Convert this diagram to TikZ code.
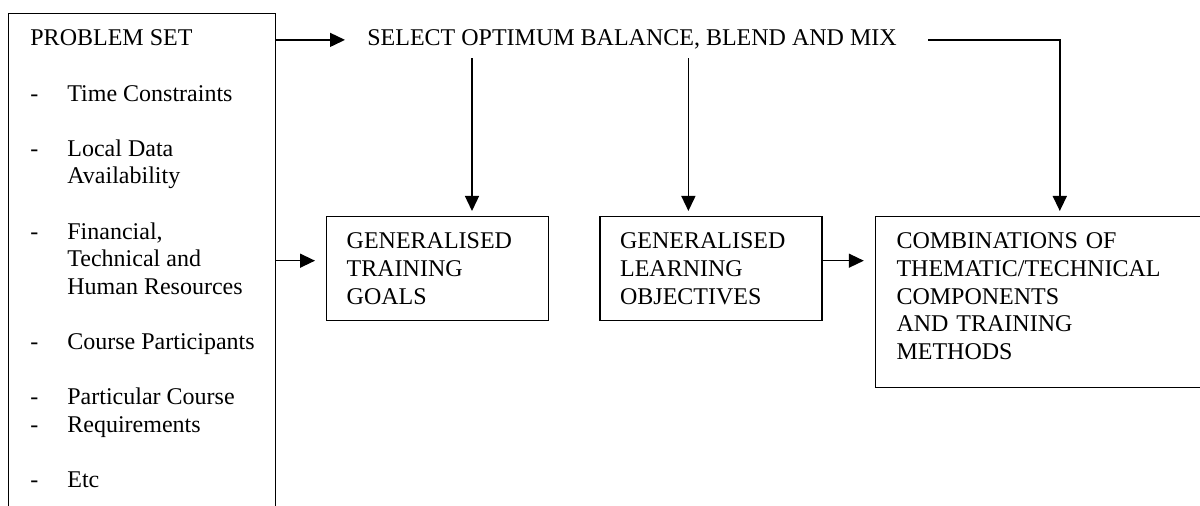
\documentclass[tikz,border=0pt]{standalone}
\usepackage{fontspec}
\setmainfont{Liberation Serif}
\usepackage{array}
\usetikzlibrary{arrows.meta, positioning}
\tikzstyle{block}  = [rectangle, draw=black, line width=0.7pt, align=left,
                       inner xsep=10pt, text width=91pt, minimum height=52pt]
\tikzstyle{probbox} = [rectangle, draw=black, line width=0.7pt, inner sep=0pt,
                       minimum width=133.5pt, minimum height=260pt]
\tikzstyle{arrow}  = [-{Triangle[length=7.5pt, width=7pt]}, line width=0.7pt, black]
\tikzstyle{line}   = [line width=0.7pt, black]

\begin{document}
\begin{tikzpicture}[x=1pt, y=-1pt, node distance=25pt,
    font=\fontsize{12}{13.8}\selectfont]
  \useasboundingbox (0,0) rectangle (600,253);

  \node[probbox, anchor=north west] (problem) at (4,6.5) {};
  \node[anchor=base west, inner sep=0pt] (problist) at (15,23) {%
    \begin{tabular}[t]{@{}p{18.5pt}@{}l@{}}
      \multicolumn{2}{@{}l}{PROBLEM SET}\\
      \\
      - & Time Constraints\\
      \\
      - & Local Data\\
        & Availability\\
      \\
      - & Financial,\\
        & Technical and\\
        & Human Resources\\
      \\
      - & Course Participants\\
      \\
      - & Particular Course\\
      - & Requirements\\
      \\
      - & Etc
    \end{tabular}};

  \node[anchor=base west, inner sep=0pt] (select) at (183.5,23)
    {SELECT OPTIMUM BALANCE, BLEND AND MIX};

  \node[block, anchor=north west] (goals) at (163,108)
    {GENERALISED\\TRAINING\\GOALS};
  \node[block, right=of goals] (objectives)
    {GENERALISED\\LEARNING\\OBJECTIVES};
  \node[block, right=26pt of objectives.north east, anchor=north west,
        text width=160pt, inner xsep=10.5pt, minimum height=85.5pt] (combos)
    {COMBINATIONS OF\\THEMATIC/TECHNICAL\\COMPONENTS\\AND TRAINING\\
     METHODS\rule[-6pt]{0pt}{6pt}};

  \coordinate (goals-top) at ([xshift=73pt]goals.north west);
  \coordinate (obj-top)   at ([xshift=44.5pt]objectives.north west);
  \coordinate (comb-top)  at ([xshift=92.5pt]combos.north west);
  \coordinate (goals-in)  at ([yshift=4pt]goals.west);
  \coordinate (obj-out)   at ([yshift=4pt]objectives.east);

  \draw[arrow, shorten >=11pt] (problem.east |- select.west) -- (select.west);
  \draw[arrow, shorten <=4pt, shorten >=2.5pt] (select.south -| goals-top) -- (goals-top);
  \draw[arrow, shorten <=4pt, shorten >=2.5pt] (select.south -| obj-top) -- (obj-top);
  \draw[arrow, shorten <=15.5pt, shorten >=2.5pt] (select.east) -| (comb-top);
  \draw[arrow, shorten >=5.5pt] (problem.east |- goals-in) -- (goals-in);
  \draw[arrow, shorten >=5.5pt] (obj-out) -- (obj-out -| combos.west);
\end{tikzpicture}
\end{document}
